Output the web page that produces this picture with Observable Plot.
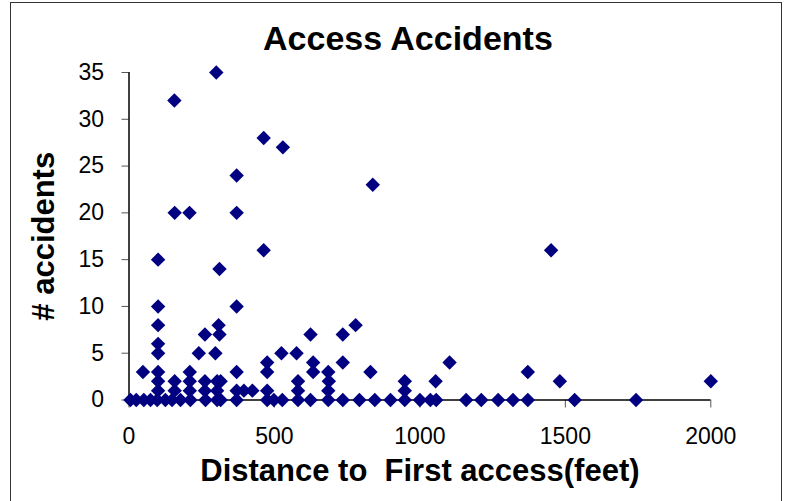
<!DOCTYPE html>
<html>
<head>
<meta charset="utf-8">
<script src="https://cdn.jsdelivr.net/npm/d3@7"></script>
<script src="https://cdn.jsdelivr.net/npm/@observablehq/plot@0.6"></script>
<style>
  html, body { margin: 0; padding: 0; background: #fff; }
  #wrap { position: relative; width: 787px; height: 501px; overflow: hidden; }
  #border { position: absolute; left: 10px; top: 2px; width: 772px; height: 530px; border: 1.5px solid #333; box-sizing: border-box; pointer-events: none; }
  svg text { white-space: pre; }
</style>
</head>
<body>
<div id="wrap"><div id="border"></div></div>
<script>
const title = "Access Accidents";
const xTitle = "Distance to  First access(feet)";
const yTitle = "# accidents";
const xTicks = [0, 500, 1000, 1500, 2000];
const yTicks = [0, 5, 10, 15, 20, 25, 30, 35];

// distance to first access (feet)
const distance = [
  300, 156, 463, 529, 370, 838, 157, 208, 370, 1451, 463, 100, 311,
  100, 370, 100, 308, 779, 261, 311, 624, 735, 100, 100, 240, 297, 524, 576,
  475, 633, 735, 1102,
  48, 100, 209, 370, 475, 633, 685, 830, 1371,
  100, 157, 209, 261, 303, 315, 581, 687, 948, 1054, 1481, 2000,
  100, 157, 209, 261, 303, 370, 395, 424, 475, 581, 685, 948,
  5, 25, 51, 74, 97, 125, 148, 177, 211, 263, 303, 315, 370, 475, 498, 527,
  581, 624, 685, 735, 792, 845, 899, 948, 1000, 1036, 1056, 1159, 1211,
  1269, 1320, 1371, 1532, 1743
];
// number of accidents
const accidents = [
  35, 32, 28, 27, 24, 23, 20, 20, 20, 16, 16, 15, 14,
  10, 10, 8, 8, 8, 7, 7, 7, 7, 6, 5, 5, 5, 5, 5,
  4, 4, 4, 4,
  3, 3, 3, 3, 3, 3, 3, 3, 3,
  2, 2, 2, 2, 2, 2, 2, 2, 2, 2, 2, 2,
  1, 1, 1, 1, 1, 1, 1, 1, 1, 1, 1, 1,
  0, 0, 0, 0, 0, 0, 0, 0, 0, 0, 0, 0, 0, 0, 0, 0,
  0, 0, 0, 0, 0, 0, 0, 0, 0, 0, 0, 0, 0,
  0, 0, 0, 0, 0
];

const data = distance.map((d, i) => ({distance: d, accidents: accidents[i]}));
const font = "'Liberation Sans', Arial, Helvetica, sans-serif";

const chart = Plot.plot({
  width: 787,
  height: 501,
  marginLeft: 128.5,
  marginRight: 76.7,
  marginTop: 72,
  marginBottom: 101.5,
  style: {fontFamily: font, fontSize: "23px", color: "#000", background: "transparent", overflow: "visible"},
  x: {domain: [0, 2000]},
  y: {domain: [0, 35]},
  marks: [
    Plot.axisY({ticks: yTicks, tickSize: 7, tickPadding: 18, label: null, fontSize: 23, stroke: "#555", tickFormat: d => String(d)}),
    Plot.axisX({ticks: xTicks, tickSize: 8, tickPadding: 20, label: null, fontSize: 23, stroke: "#555", tickFormat: d => String(d)}),
    Plot.ruleX([0], {y1: 0, y2: 35, stroke: "#000", strokeWidth: 1.5}),
    Plot.ruleY([0], {stroke: "#000", strokeWidth: 1.5}),
    Plot.dot(data, {x: "distance", y: "accidents", symbol: "diamond2", r: 6.5, fill: "#000080", stroke: "none"}),
    Plot.text([title], {frameAnchor: "top", lineAnchor: "middle", textAnchor: "middle", dx: -12, dy: -33, fontSize: 34, fontWeight: "bold", fill: "#000"}),
    Plot.text([xTitle], {frameAnchor: "bottom", lineAnchor: "middle", textAnchor: "middle", dy: 71, fontSize: 31, fontWeight: "bold", fill: "#000"}),
    Plot.text([yTitle], {frameAnchor: "left", lineAnchor: "middle", textAnchor: "middle", dx: -85, rotate: -90, fontSize: 31, fontWeight: "bold", fill: "#000"})
  ]
});
document.getElementById("wrap").appendChild(chart);
</script>
</body>
</html>
